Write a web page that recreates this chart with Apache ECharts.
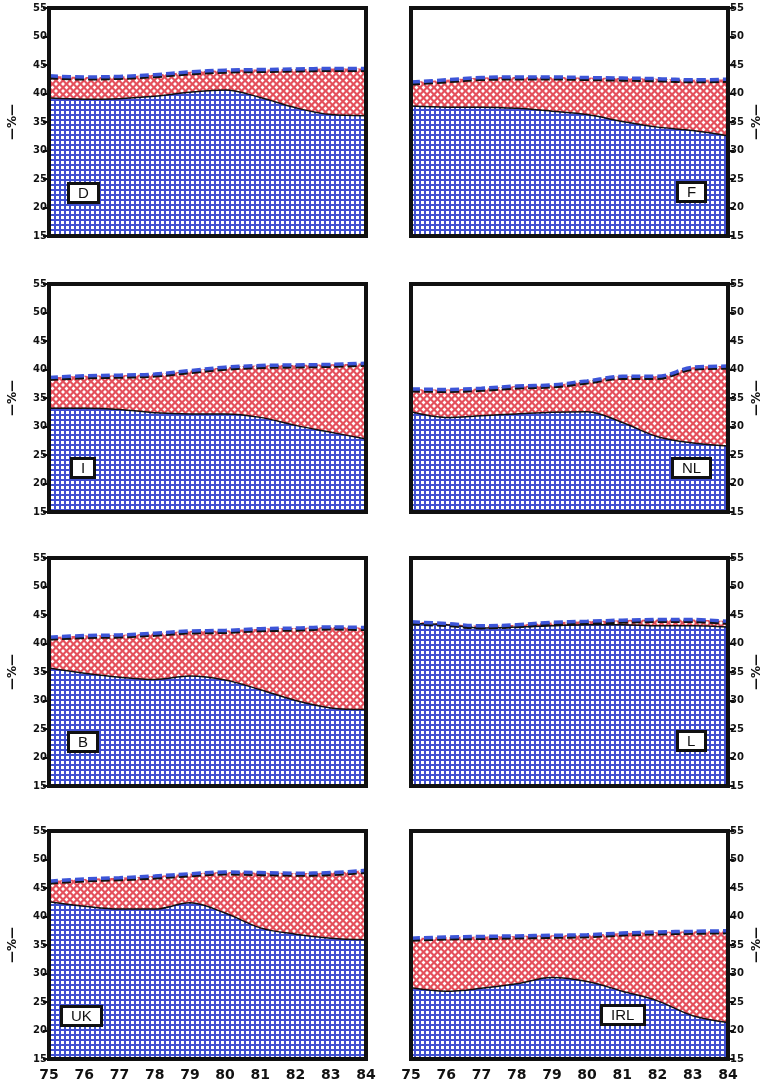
<!DOCTYPE html>
<html>
<head>
<meta charset="utf-8">
<script src="https://cdn.jsdelivr.net/npm/echarts@6/dist/echarts.min.js"></script>
<style>
html,body{margin:0;padding:0;background:#fff;}
#chart{width:768px;height:1083px;}
</style>
</head>
<body>
<div id="chart"></div>
<script>
// ---- data ----
const years = [75, 76, 77, 78, 79, 80, 81, 82, 83, 84];
const yMin = 15, yMax = 55, yStep = 5;
const countries = ['D', 'F', 'I', 'NL', 'B', 'L', 'UK', 'IRL'];

const D_base    = [39.2, 39.0, 39.1, 39.5, 40.2, 40.6, 39.3, 37.5, 36.3, 36.1];
const D_total   = [43.1, 42.9, 43.0, 43.3, 43.8, 44.1, 44.2, 44.3, 44.4, 44.4];
const F_base    = [37.8, 37.6, 37.6, 37.4, 36.9, 36.3, 35.1, 34.1, 33.5, 32.6];
const F_total   = [42.0, 42.4, 42.8, 42.9, 42.9, 42.8, 42.7, 42.6, 42.4, 42.5];
const I_base    = [33.2, 33.2, 33.0, 32.4, 32.2, 32.2, 31.6, 30.2, 29.0, 27.8];
const I_total   = [38.6, 38.9, 39.0, 39.2, 39.8, 40.4, 40.7, 40.8, 40.9, 41.1];
const NL_base   = [32.6, 31.6, 31.9, 32.2, 32.5, 32.6, 30.7, 28.2, 27.1, 26.6];
const NL_total  = [36.6, 36.5, 36.7, 37.1, 37.3, 38.0, 38.8, 38.8, 40.4, 40.6];
const B_base    = [35.7, 34.8, 34.1, 33.7, 34.3, 33.6, 31.9, 30.0, 28.7, 28.4];
const B_total   = [41.1, 41.4, 41.5, 41.8, 42.2, 42.3, 42.6, 42.7, 42.9, 42.8];
const L_base    = [43.5, 43.3, 42.7, 42.9, 43.1, 43.3, 43.3, 43.1, 43.1, 42.9];
const L_total   = [43.8, 43.5, 43.1, 43.3, 43.7, 43.9, 44.1, 44.2, 44.2, 43.9];
const UK_base   = [42.6, 41.8, 41.3, 41.3, 42.4, 40.6, 38.0, 36.9, 36.2, 35.9];
const UK_total  = [46.2, 46.6, 46.8, 47.1, 47.5, 47.8, 47.7, 47.6, 47.7, 48.1];
const IRL_base  = [27.5, 26.9, 27.4, 28.2, 29.3, 28.6, 26.9, 25.2, 22.6, 21.4];
const IRL_total = [36.2, 36.4, 36.5, 36.6, 36.7, 36.8, 37.1, 37.3, 37.4, 37.5];

const baseData  = {D: D_base, F: F_base, I: I_base, NL: NL_base, B: B_base, L: L_base, UK: UK_base, IRL: IRL_base};
const totalData = {D: D_total, F: F_total, I: I_total, NL: NL_total, B: B_total, L: L_total, UK: UK_total, IRL: IRL_total};

// ---- layout / style ----
const colLeft = [49, 411];
const panelW = 317;
const rowTop = [8, 284, 558, 831];
const panelH = 228;
const boxPos = {
  D: [68, 183], F: [677, 182], I: [71, 458], NL: [672, 458],
  B: [68, 732], L: [677, 731], UK: [61, 1006], IRL: [601, 1005]
};

function bluePattern() {
  const c = document.createElement('canvas');
  c.width = 5; c.height = 5;
  const g = c.getContext('2d');
  g.fillStyle = '#4150d2';
  g.fillRect(0, 0, 5, 5);
  g.fillStyle = '#ffffff';
  g.fillRect(1, 1, 3, 3);
  return c;
}
function redPattern() {
  const s = 7, r = 1.95;
  const c = document.createElement('canvas');
  c.width = s; c.height = s;
  const g = c.getContext('2d');
  g.fillStyle = '#e4505c';
  g.fillRect(0, 0, s, s);
  g.fillStyle = '#ffffff';
  const centers = [[s / 2, s / 2], [0, 0], [s, 0], [0, s], [s, s]];
  centers.forEach(([cx, cy]) => {
    g.beginPath();
    g.moveTo(cx, cy - r); g.lineTo(cx + r, cy); g.lineTo(cx, cy + r); g.lineTo(cx - r, cy);
    g.closePath();
    g.fill();
  });
  return c;
}
const bluePat = {image: bluePattern(), repeat: 'repeat'};
const redPat = {image: redPattern(), repeat: 'repeat'};

const grids = [], xAxes = [], yAxes = [], series = [], titles = [];

countries.forEach((name, i) => {
  const col = i % 2, row = Math.floor(i / 2);
  const isLeft = col === 0;
  const isBottom = row === 3;
  grids.push({
    left: colLeft[col], top: rowTop[row], width: panelW, height: panelH,
    show: true, z: 10, backgroundColor: 'transparent',
    borderColor: '#111', borderWidth: 4
  });
  xAxes.push({
    gridIndex: i, type: 'value', min: years[0], max: years[years.length - 1], interval: 1,
    axisLine: {show: false}, axisTick: {show: false}, splitLine: {show: false},
    axisLabel: {
      show: isBottom, margin: 9, fontSize: 14, fontWeight: 'bold',
      fontFamily: 'DejaVu Sans', color: '#111'
    }
  });
  yAxes.push({
    gridIndex: i, type: 'value', min: yMin, max: yMax, interval: yStep,
    position: isLeft ? 'left' : 'right',
    axisLine: {show: false},
    axisTick: {show: true, length: 6, lineStyle: {color: '#111', width: 2}},
    splitLine: {show: false},
    axisLabel: {
      margin: 2, fontSize: 10, fontWeight: 'bold',
      fontFamily: 'DejaVu Sans', color: '#111'
    },
    name: '—%—', nameLocation: 'middle', nameRotate: 90,
    nameGap: isLeft ? 30 : 23,
    nameTextStyle: {fontSize: 12, fontWeight: 'bold', color: '#111', fontFamily: 'DejaVu Sans'}
  });
  const base = baseData[name], total = totalData[name];
  const pair = arr => years.map((y, k) => [y, arr[k]]);
  series.push({
    type: 'line', xAxisIndex: i, yAxisIndex: i, z: 1,
    data: pair(total), smooth: 0.35, symbol: 'none',
    lineStyle: {width: 0, opacity: 0},
    areaStyle: {color: redPat, opacity: 1}
  });
  series.push({
    type: 'line', xAxisIndex: i, yAxisIndex: i, z: 2,
    data: pair(base), smooth: 0.35, symbol: 'none',
    lineStyle: {width: 1.5, color: '#111'},
    areaStyle: {color: bluePat, opacity: 1}
  });
  series.push({
    type: 'line', xAxisIndex: i, yAxisIndex: i, z: 4,
    data: pair(total), smooth: 0.35, symbol: 'none',
    lineStyle: {
      width: 3.5, color: '#3d55d8', type: [9, 4],
      shadowColor: '#111', shadowOffsetY: 1.8, shadowBlur: 0
    }
  });
  titles.push({
    text: name, left: boxPos[name][0], top: boxPos[name][1], z: 12,
    backgroundColor: '#fff', borderColor: '#111', borderWidth: 3,
    padding: [3, 10, 2, 10],
    textStyle: {fontSize: 15, fontWeight: 'normal', color: '#111', fontFamily: 'Liberation Sans'}
  });
});

const chart = echarts.init(document.getElementById('chart'), null, {renderer: 'canvas'});
chart.setOption({
  animation: false,
  backgroundColor: '#fff',
  title: titles,
  grid: grids,
  xAxis: xAxes,
  yAxis: yAxes,
  series: series
});
</script>
</body>
</html>
